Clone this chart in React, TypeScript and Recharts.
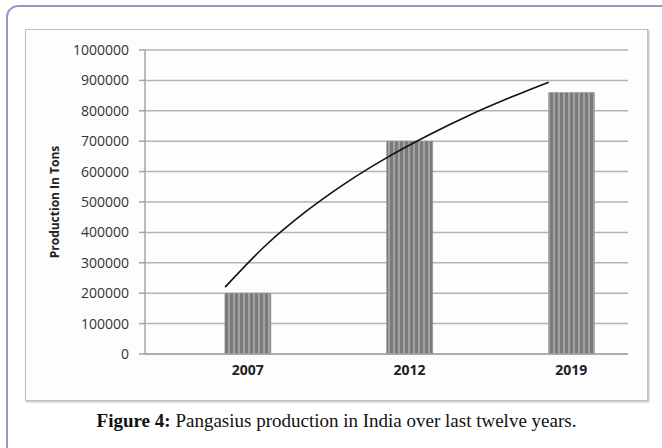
import React from 'react';
import { ComposedChart, Bar, Line, XAxis, YAxis, CartesianGrid } from 'recharts';

// Categories and values
const years: string[] = ['2007', '2012', '2019'];
const production: number[] = [200000, 700000, 860000];
const yTicks: number[] = [0, 100000, 200000, 300000, 400000, 500000, 600000, 700000, 800000, 900000, 1000000];

// Trendline (Excel logarithmic trendline):
// horizontal positions in category units, values in tons
const trendPos: number[] = [-0.14, 0.11, 0.36, 0.61, 0.86, 1.11, 1.36, 1.61, 1.86];
const trendValues: number[] = [220000, 357000, 469000, 564000, 646000, 718000, 783000, 841000, 894000];

const barData = years.map((year, i) => ({ x: i, year, production: production[i] }));
const trendData = trendPos.map((x, i) => ({ x, trend: trendValues[i] }));

const X_DOMAIN: [number, number] = [-0.635, 2.35];

const AxisTitle = (props: any) => {
  const vb = props.viewBox || { x: 0, y: 0, width: 0, height: 0 };
  const cx = vb.x + 9;
  const cy = vb.y + vb.height / 2;
  return (
    <text
      x={cx}
      y={cy}
      transform={`rotate(-90, ${cx}, ${cy})`}
      textAnchor="middle"
      dominantBaseline="central"
      fontFamily="'Open Sans', sans-serif"
      fontWeight={700}
      fontSize={12}
      fill="#222"
    >
      Production In Tons
    </text>
  );
};

export default function App() {
  return (
    <div
      style={{
        position: 'absolute',
        left: 0,
        top: 0,
        width: 662,
        height: 448,
        overflow: 'hidden',
        background: '#ffffff',
      }}
    >
      {/* outer article frame */}
      <div
        style={{
          position: 'absolute',
          left: 6,
          top: 5,
          width: 720,
          height: 520,
          border: '2px solid #9a95cb',
          borderRadius: 12,
          boxSizing: 'border-box',
        }}
      />
      {/* chart box */}
      <div
        style={{
          position: 'absolute',
          left: 25,
          top: 29,
          width: 623,
          height: 372,
          border: '1px solid #c2c2c2',
          boxShadow: '1px 1px 2px rgba(0,0,0,0.3)',
          boxSizing: 'border-box',
          background: '#fdfdfd',
        }}
      />
      <div style={{ position: 'absolute', left: 25, top: 29 }}>
        <ComposedChart
          width={623}
          height={372}
          data={barData}
          margin={{ top: 21, right: 20, bottom: 17, left: 20 }}
        >
          <defs>
            <pattern id="stripes" width="5" height="10" patternUnits="userSpaceOnUse">
              <rect x="0" y="0" width="5" height="10" fill="#7a7a7a" />
              <rect x="3" y="0" width="2" height="10" fill="#a2a2a2" />
            </pattern>
          </defs>
          <CartesianGrid vertical={false} stroke="#b3b3b3" strokeWidth={1.5} />
          <XAxis
            type="number"
            dataKey="x"
            domain={X_DOMAIN}
            ticks={[0, 1, 2]}
            allowDataOverflow
            tickFormatter={(v: number) => years[v] ?? ''}
            tickLine={false}
            axisLine={{ stroke: '#a5a5a5', strokeWidth: 1.5 }}
            tick={{ fill: '#222', fontSize: 14, fontWeight: 700, fontFamily: "'Open Sans', sans-serif" }}
            tickMargin={5}
            height={30}
          />
          <XAxis
            xAxisId="trend"
            type="number"
            dataKey="x"
            domain={X_DOMAIN}
            allowDataOverflow
            hide
          />
          <YAxis
            type="number"
            domain={[0, 1000000]}
            ticks={yTicks}
            interval={0}
            width={100}
            tickSize={6}
            tickMargin={10}
            tickLine={{ stroke: '#a5a5a5', strokeWidth: 1.5 }}
            axisLine={{ stroke: '#a5a5a5', strokeWidth: 1.5 }}
            tick={{ fill: '#333', fontSize: 14, fontFamily: "'Open Sans', sans-serif" }}
            label={<AxisTitle />}
          />
          <Bar
            dataKey="production"
            barSize={46}
            fill="url(#stripes)"
            stroke="#8a8a8a"
            strokeWidth={0.5}
            isAnimationActive={false}
          />
          <Line
            xAxisId="trend"
            data={trendData}
            dataKey="trend"
            type="monotone"
            stroke="#111"
            strokeWidth={1.6}
            dot={false}
            activeDot={false}
            isAnimationActive={false}
          />
        </ComposedChart>
      </div>
      <div
        style={{
          position: 'absolute',
          left: 25,
          top: 410,
          width: 623,
          textAlign: 'center',
          fontFamily: "'Liberation Serif', 'Times New Roman', serif",
          fontSize: 19,
          color: '#111',
          whiteSpace: 'nowrap',
        }}
      >
        <b>Figure 4:</b> Pangasius production in India over last twelve years.
      </div>
    </div>
  );
}
